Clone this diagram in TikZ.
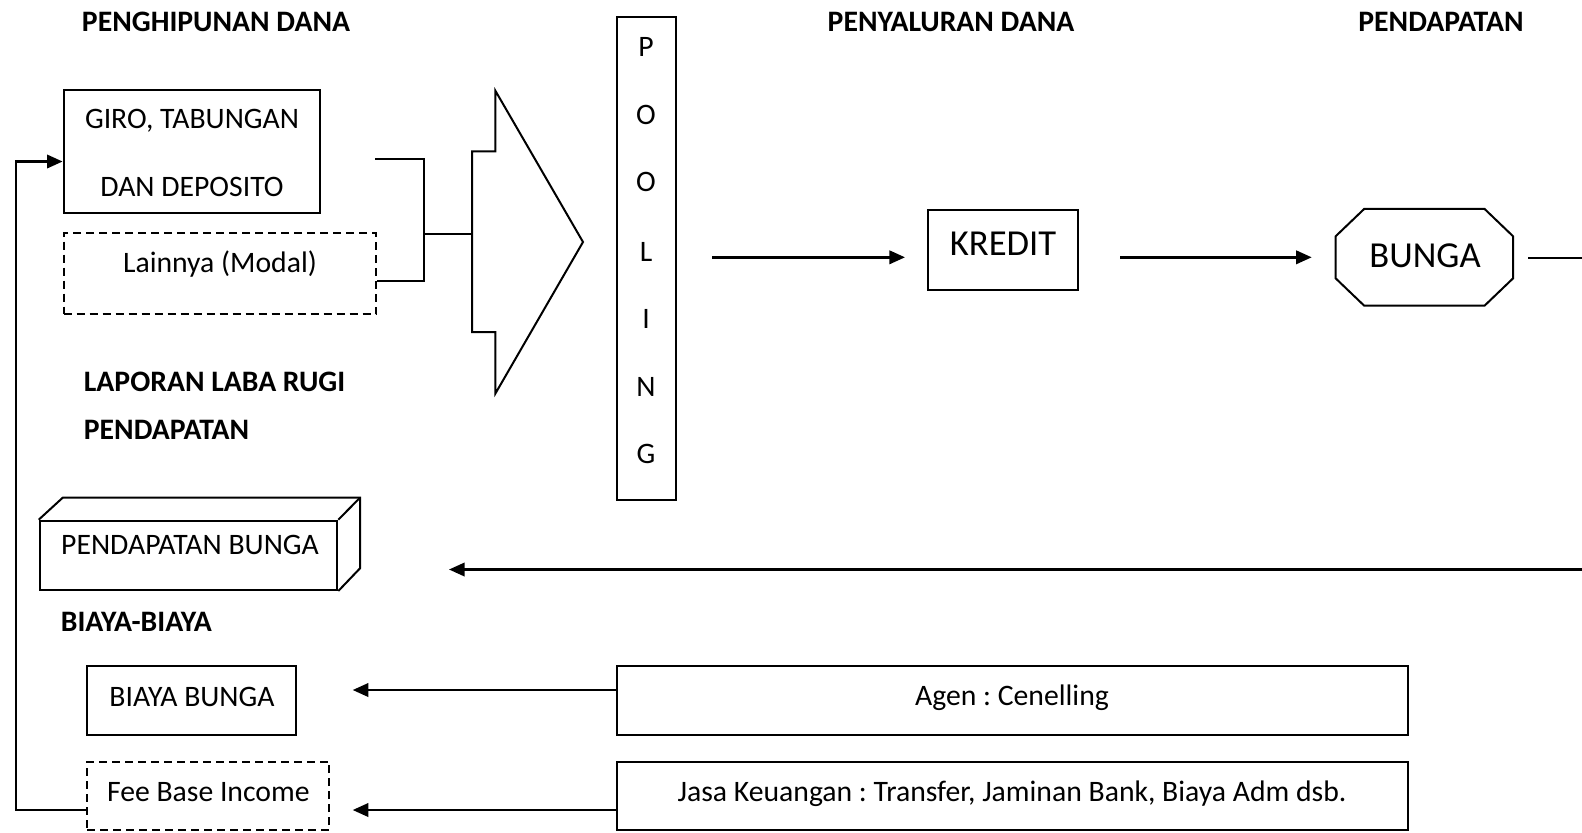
\documentclass[tikz,border=0pt]{standalone}
\usepackage{fontspec}
\setmainfont{Carlito}
\frenchspacing
\usetikzlibrary{arrows.meta,fit,calc}
\begin{document}
\begin{tikzpicture}[x=0.5pt,y=-0.5pt,
  lbl/.style={inner sep=0pt, text height=9.35pt, text depth=0pt, font=\fontsize{14.85}{17}\selectfont},
  big/.style={inner sep=0pt, text height=11.6pt, text depth=0pt, font=\fontsize{18.3}{22}\selectfont},
  ttl/.style={lbl, font=\fontsize{14.85}{17}\selectfont\bfseries},
  box/.style={draw, line width=1pt, inner sep=0pt},
  dbox/.style={box, dash pattern=on 4pt off 2.5pt},
  shp/.style={line width=1pt},
  ln/.style={line width=1.2pt},
  arr/.style={ln, -{Triangle[length=7.8pt,width=6.7pt]}}
]
\useasboundingbox (0,0) rectangle (1582,832);

% titles
\node[ttl] (h1) at (216,22) {PENGHIPUNAN DANA};
\node[ttl] (h2) at (951,22) {PENYALURAN DANA};
\node[ttl] (h3) at (1441,22) {PENDAPATAN};
\node[ttl, anchor=west] (h4) at (83.5,382) {LAPORAN LABA RUGI};
\node[ttl, anchor=west] (h5) at (83.5,430) {PENDAPATAN};
\node[ttl, anchor=west] (h6) at (60.5,622) {BIAYA-BIAYA};

% sources
\node[box, fit={(63.6,89.8)(319.8,212.9)}] (giro) {};
\node[lbl] (giro1) at (192,119) {GIRO, TABUNGAN};
\node[lbl] (giro2) at (192,187) {DAN DEPOSITO};
\node[dbox, fit={(63.6,233)(376.4,313.8)}] (lain) {};
\node[lbl] (laint) at (220,263) {Lainnya (Modal)};

% block arrow
\draw[shp] (472,151.4) -- (495.4,151.4) -- (495.4,90.8) -- (583,242) -- (495.4,393.5) -- (495.4,332) -- (472,332) -- cycle;
\coordinate (blk) at (472,234);

% pooling
\node[box, fit={(616.5,17.2)(676,499.5)}] (pool) {};
\foreach \l/\y [count=\i] in {P/47.4, O/115, O/182.6, L/252.3, I/318.8, N/387.5, G/454}
  \node[lbl] (pl\i) at (646,\y) {\l};

% kredit
\node[box, fit={(928,209.9)(1077.6,289.6)}] (kredit) {};
\node[big] (kreditt) at (1003,244) {KREDIT};

% bunga octagon
\node[inner sep=0pt, fit={(1336,209.3)(1512.7,305.3)}] (bunga) {};
\draw[shp] ($(bunga.north west)+(28.6,0)$) -- ($(bunga.north east)+(-28.6,0)$) -- ($(bunga.north east)+(0,27.4)$) -- ($(bunga.south east)+(0,-27.4)$) -- ($(bunga.south east)+(-28.6,0)$) -- ($(bunga.south west)+(28.6,0)$) -- ($(bunga.south west)+(0,-27.4)$) -- ($(bunga.north west)+(0,27.4)$) -- cycle;
\node[big] (bungat) at (1425,256) {BUNGA};

% pendapatan bunga (3D box)
\node[box, fit={(39.7,520.7)(337.3,590)}] (pb) {};
\coordinate (pbbl) at (62.7,497.7);
\coordinate (pbbr) at (360,497.7);
\coordinate (pbbb) at (360,568.3);
\draw[shp] (pb.north west) -- (pbbl) -- (pbbr) -- (pbbb) -- (pb.south east);
\draw[shp] (pb.north east) -- (pbbr);
\node[lbl] (pbt) at (190,545) {PENDAPATAN BUNGA};

% biaya
\node[box, fit={(87.3,665.7)(296.3,735)}] (bb) {};
\node[lbl] (bbt) at (192,696.7) {BIAYA BUNGA};
\node[dbox, fit={(87.3,761.7)(329.3,830)}] (fee) {};
\node[lbl] (feet) at (208.3,791.7) {Fee Base Income};
\node[box, fit={(616.5,666)(1408.3,735)}] (agen) {};
\node[lbl] (agent) at (1012,696) {Agen : Cenelling};
\node[box, fit={(616.5,761.7)(1408.3,830)}] (jasa) {};
\node[lbl] (jasat) at (1012,792) {Jasa Keuangan : Transfer, Jaminan Bank, Biaya Adm dsb.};

% bracket connector
\coordinate (c1) at (375,159.4);
\coordinate (c2) at (424,159.4);
\coordinate (c3) at (424,280.5);
\coordinate (c4) at (424,234);
\draw[shp] (c1) -- (c2) -- (c3) -- (lain.east |- c3);
\draw[shp] (c4) -- (blk);

% flow arrows
\coordinate (a1s) at (712.3,257.3);
\coordinate (a1e) at (905,257.3);
\coordinate (a2s) at (1120,257.3);
\coordinate (a2e) at (1311.7,257.3);
\coordinate (b1) at (1528,257.7);
\coordinate (b2) at (1582,257.7);
\draw[arr] (a1s) -- (a1e);
\draw[arr] (a2s) -- (a2e);
\draw[ln] (b1) -- (b2);
\coordinate (r1) at (1582,569.5);
\coordinate (r2) at (449,569.5);
\draw[arr] (r1) -- (r2);

\coordinate (bbtip) at (352.7,690);
\draw[arr] (agen.west |- bbtip) -- (bbtip);
\coordinate (feetip) at (352.7,810);
\draw[arr] (jasa.west |- feetip) -- (feetip);

% feedback loop
\coordinate (fb1) at (15.7,810);
\coordinate (fb2) at (15.7,161.5);
\draw[arr] (fee.west |- fb1) -- (fb1) -- (fb2) -- (giro.west |- fb2);
\end{tikzpicture}
\end{document}
